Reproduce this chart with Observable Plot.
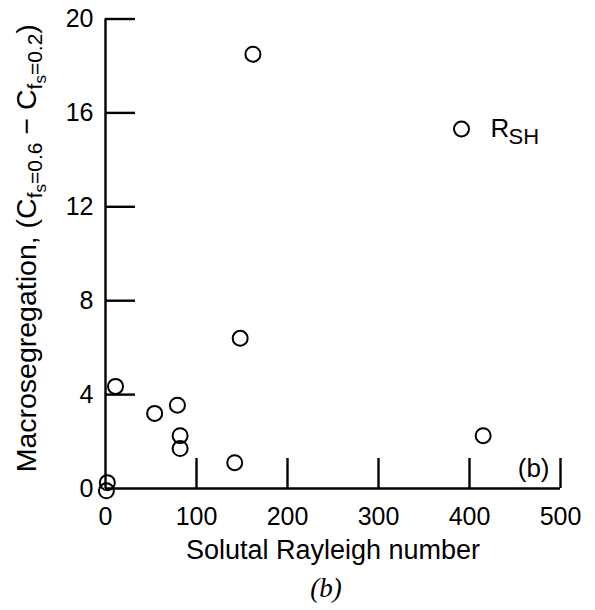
<!DOCTYPE html>
<html>
<head>
<meta charset="utf-8">
<script src="https://cdn.jsdelivr.net/npm/d3@7"></script>
<script src="https://cdn.jsdelivr.net/npm/@observablehq/plot@0.6"></script>
<style>
  html, body { margin: 0; padding: 0; background: #fff; }
  svg { display: block; }
</style>
</head>
<body>
<div id="chart"></div>
<script>
// Data
const rayleigh = [162, 148, 11, 54, 79, 82, 82, 142, 415, 2, 1];
const macroseg = [18.5, 6.4, 4.35, 3.2, 3.55, 2.25, 1.7, 1.1, 2.25, 0.25, -0.1];
const xTicks = [0, 100, 200, 300, 400, 500];
const yTicks = [0, 4, 8, 12, 16, 20];
const xInnerTicks = [100, 200, 300, 400, 500];
const yInnerTicks = [4, 8, 12, 16, 20];
const xLabel = "Solutal Rayleigh number";
const legendLabel = "R";
const legendSub = "SH";
const panelTag = "(b)";
const captionText = "(b)";

const points = rayleigh.map((r, i) => ({rayleigh: r, macroseg: macroseg[i]}));

const W = 595, H = 610;
const mL = 105, mR = 35, mT = 18.5, mB = 122;
const frameW = W - mL - mR, frameH = H - mT - mB;
const TICK = 30;
const font = "'Liberation Sans', Arial, Helvetica, sans-serif";

// y-axis label with nested subscripts, built as real SVG text
function yLabelMark() {
  return () => {
    const t = d3.create("svg:text")
      .attr("transform", `translate(36,${mT + frameH / 2 - 5}) rotate(-90)`)
      .attr("text-anchor", "middle")
      .attr("fill", "black")
      .attr("font-family", font);
    const parts = [
      ["Macrosegregation, (C", 28.5, 0],
      ["f", 21, 6],
      ["s", 17, 4],
      ["=0.6", 21, -4],
      [" \u2212 C", 28.5, -6],
      ["f", 21, 6],
      ["s", 17, 4],
      ["=0.2", 21, -4],
      [")", 28.5, -6]
    ];
    for (const [txt, fs, dy] of parts) {
      t.append("tspan").attr("font-size", fs).attr("dy", dy).text(txt);
    }
    return t.node();
  };
}

const plot = Plot.plot({
  width: W,
  height: H,
  marginLeft: mL,
  marginRight: mR,
  marginTop: mT,
  marginBottom: mB,
  style: {fontFamily: font, fontSize: "25px", color: "black", background: "white"},
  x: {domain: [0, 500]},
  y: {domain: [0, 20]},
  marks: [
    Plot.axisX({ticks: xTicks, tickSize: 0, tickPadding: 19, label: null, fontSize: 25}),
    Plot.axisY({ticks: yTicks, tickSize: 0, tickPadding: 12, label: null, fontSize: 25}),
    Plot.ruleX([0], {stroke: "black", strokeWidth: 2.4}),
    Plot.ruleY([0], {stroke: "black", strokeWidth: 2.4}),
    Plot.tickX(xInnerTicks, {x: d => d, stroke: "black", strokeWidth: 2.4, insetTop: frameH - TICK}),
    Plot.tickY(yInnerTicks, {y: d => d, stroke: "black", strokeWidth: 2.4, insetRight: frameW - TICK}),
    Plot.dot(points, {x: "rayleigh", y: "macroseg", r: 7.5, stroke: "black", strokeWidth: 2, fill: "none"}),
    // legend
    Plot.dot([legendLabel], {frameAnchor: "top-right", dx: -99, dy: 110, r: 7.5, stroke: "black", strokeWidth: 2, fill: "none"}),
    Plot.text([legendLabel], {text: d => d, frameAnchor: "top-right", textAnchor: "start", lineAnchor: "middle", dx: -70, dy: 109.5, fontSize: 26, fill: "black"}),
    Plot.text([legendSub], {text: d => d, frameAnchor: "top-right", textAnchor: "start", lineAnchor: "middle", dx: -52, dy: 117.5, fontSize: 22, fill: "black"}),
    // panel tag inside the frame
    Plot.text([panelTag], {text: d => d, frameAnchor: "bottom-right", textAnchor: "end", lineAnchor: "middle", dx: -11, dy: -20, fontSize: 26, fill: "black"}),
    // x label
    Plot.text([xLabel], {text: d => d, frameAnchor: "bottom", lineAnchor: "middle", dy: 62, fontSize: 27, fill: "black"}),
    // caption
    Plot.text([captionText], {text: d => d, frameAnchor: "bottom", lineAnchor: "middle", dy: 100, dx: -7, fontSize: 27, fontStyle: "italic", fontFamily: "'Liberation Serif', 'DejaVu Serif', serif", fill: "black"}),
    yLabelMark()
  ]
});

document.getElementById("chart").appendChild(plot);
</script>
</body>
</html>
